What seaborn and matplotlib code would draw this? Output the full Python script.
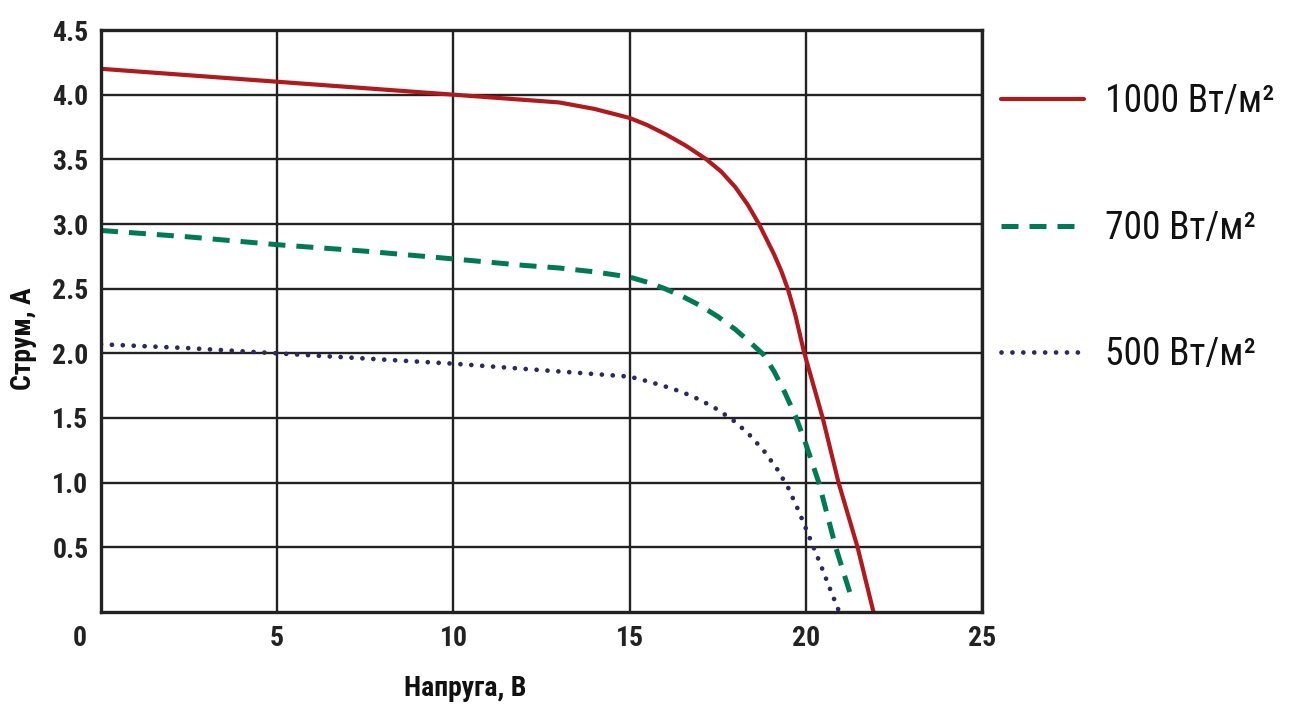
import matplotlib
matplotlib.use("Agg")
import pandas as pd
import seaborn as sns
import matplotlib.pyplot as plt
import matplotlib.transforms as mtransforms

# ------------------------------------------------
# Data
# ------------------------------------------------
v_1000 = [0, 2.5, 5, 7.5, 10, 12, 13, 14, 15, 15.5, 16.05, 16.6, 17.18, 17.6, 18.0, 18.35,
          18.67, 18.9, 19.1, 19.3, 19.5, 19.7, 19.94, 20.48, 20.93, 21.47, 21.92]
i_1000 = [4.20, 4.15, 4.10, 4.05, 4.00, 3.96, 3.94, 3.89, 3.82, 3.765, 3.69, 3.605, 3.50, 3.405, 3.285, 3.15,
          3.00, 2.875, 2.765, 2.64, 2.49, 2.30, 2.02, 1.50, 1.00, 0.50, 0.00]

v_700 = [0, 2.5, 5, 7.5, 10, 12, 13, 14, 15, 15.5, 16, 16.5, 17, 17.5, 18, 18.4, 18.8,
         19.1, 19.4, 19.7, 20.0, 20.37, 20.85, 21.33]
i_700 = [2.95, 2.90, 2.84, 2.79, 2.73, 2.68, 2.66, 2.63, 2.59, 2.55, 2.50, 2.44, 2.37, 2.285, 2.185, 2.09, 1.99,
         1.86, 1.70, 1.52, 1.30, 1.00, 0.50, 0.08]

v_500 = [0, 2.5, 5, 7.5, 10, 12, 13, 14, 15, 15.5, 16, 16.5, 17, 17.5, 18, 18.4, 18.8,
         19.2, 19.5, 19.8, 20.1, 20.4, 20.7, 20.95]
i_500 = [2.07, 2.04, 2.00, 1.96, 1.92, 1.88, 1.86, 1.84, 1.82, 1.785, 1.745, 1.70, 1.64, 1.565, 1.47, 1.37, 1.25,
         1.10, 0.96, 0.78, 0.58, 0.38, 0.17, 0.00]

labels = ["1000 Вт/м²", "700 Вт/м²", "500 Вт/м²"]
x_ticks = [0, 5, 10, 15, 20, 25]
y_ticks = [0.5, 1.0, 1.5, 2.0, 2.5, 3.0, 3.5, 4.0, 4.5]

# ------------------------------------------------
# Plot
# ------------------------------------------------
sns.set_style("white")
plt.rcParams["font.family"] = ["Roboto Condensed", "DejaVu Sans"]

fig = plt.figure(figsize=(13.06, 7.04), dpi=100)
ax = fig.add_axes([101 / 1306, 92 / 704, 881 / 1306, 582 / 704])

series = [
    (v_1000, i_1000, "#b0191e", "-", 3.0),
    (v_700, i_700, "#007a55", (0, (3.4, 2.2)), 3.6),
    (v_500, i_500, "#2a2960", (0, (0.01, 2.3)), 3.4),
]
for (v, i, color, ls, lw), lab in zip(series, labels):
    df = pd.DataFrame({"v": v, "i": i})
    sns.lineplot(data=df, x="v", y="i", ax=ax, color=color, linestyle=ls,
                 linewidth=lw, label=lab, sort=False)
ax.lines[2].set_dash_capstyle("round")

ax.set_xlim(0, 25)
ax.set_ylim(0, 4.5)
ax.set_xticks(x_ticks)
ax.set_yticks(y_ticks)
ax.set_xticklabels([str(t) for t in x_ticks])
ax.set_yticklabels([f"{t:.1f}" for t in y_ticks])
ax.grid(True, color="#222222", linewidth=1.7)
ax.set_axisbelow(True)
for sp in ax.spines.values():
    sp.set_color("#222222")
    sp.set_linewidth(2.4)
ax.tick_params(length=0, labelsize=20, pad=9)
for lbl in ax.get_xticklabels() + ax.get_yticklabels():
    lbl.set_fontweight("bold")
    lbl.set_color("#222222")
# the "0" label sits left of the corner
first = ax.get_xticklabels()[0]
first.set_transform(first.get_transform() + mtransforms.ScaledTranslation(-0.21, 0, fig.dpi_scale_trans))

ax.set_xlabel("Напруга, В", fontsize=20, fontweight="bold", color="#111111")
ax.set_ylabel("Струм, А", fontsize=20, fontweight="bold", color="#111111")
ax.xaxis.set_label_coords((465 - 101) / 881, -0.108)
ax.yaxis.set_label_coords(-0.073, 0.47)

leg = ax.legend(loc="upper left", bbox_to_anchor=(1.005, 0.934), frameon=False,
                prop={"size": 27, "weight": "normal"}, handlelength=2.2,
                handletextpad=0.55, labelspacing=2.38, borderaxespad=0)
for t in leg.get_texts():
    t.set_color("#111111")

plt.savefig("out.png", dpi=100)
plt.close(fig)
